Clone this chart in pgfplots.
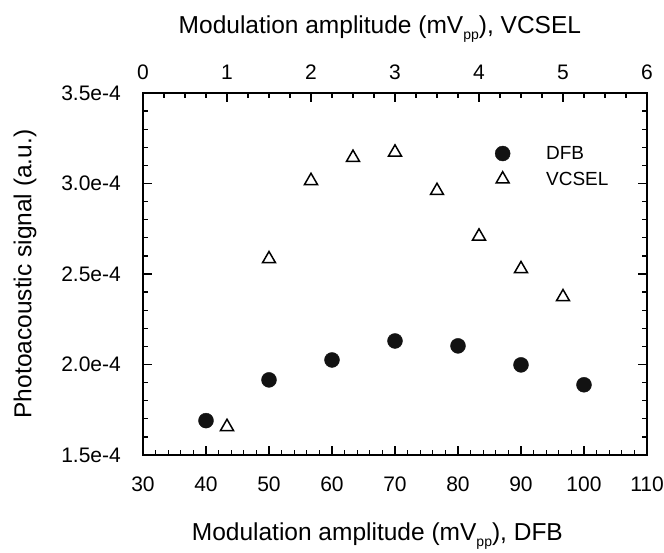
\documentclass[border=0pt]{standalone}
\usepackage{fontspec}
\setmainfont{Liberation Sans}
\usepackage{pgfplots}
\pgfplotsset{compat=1.18}
\newcommand{\pp}{\raisebox{-0.5ex}{\fontsize{14}{14}\selectfont pp}}
\begin{document}
\begin{tikzpicture}
\pgfplotsset{
  common/.style={
    scale only axis, width=504pt, height=362pt, at={(0,0)}, anchor=south west,
    ymin=1.5e-4, ymax=3.5e-4,
    axis line style={line width=1.6pt, black},
    tick style={line width=1.3pt, black},
    major tick length=9pt, minor tick length=5pt, tick align=inside,
    ticklabel style={font=\fontsize{21}{25}\selectfont, inner sep=0pt},
    label style={font=\fontsize{24.5}{28}\selectfont},
    scaled y ticks=false,
  }
}
\begin{axis}[common,
  xmin=30, xmax=110,
  xtick={30,40,50,60,70,80,90,100,110},
  xticklabels={30,40,50,60,70,80,90,100,110},
  minor x tick num=4, xtick pos=lower,
  xticklabel style={yshift=-22pt},
  ytick={1.5e-4,2.0e-4,2.5e-4,3.0e-4,3.5e-4},
  yticklabels={1.5e-4,2.0e-4,2.5e-4,3.0e-4,3.5e-4},
  minor y tick num=4, ytick pos=both, yticklabel pos=left,
  yticklabel style={xshift=-22pt},
  xlabel={Modulation amplitude (mV\pp), DFB},
  xlabel style={at={(axis description cs:0.465,0)}, anchor=center, yshift=-81pt},
  ylabel={Photoacoustic signal (a.u.)},
  ylabel style={at={(axis description cs:-0.234,0.5)}, anchor=center},
]
\addplot[only marks, mark=*, mark size=7.5pt, color=black!93, fill=black!93]
  coordinates {(40,1.69e-4) (50,1.915e-4) (60,2.025e-4) (70,2.13e-4) (80,2.103e-4) (90,1.998e-4) (100,1.888e-4)};
\end{axis}
\begin{axis}[common,
  xmin=0, xmax=6,
  xtick={0,1,2,3,4,5,6},
  xticklabels={0,1,2,3,4,5,6},
  minor x tick num=3, xtick pos=upper, xticklabel pos=upper,
  xticklabel style={yshift=13pt},
  hide y axis,
  xlabel={Modulation amplitude (mV\pp), VCSEL},
  xlabel style={at={(axis description cs:0.47,1)}, anchor=center, yshift=64pt},
  legend style={at={(axis cs:4.19,3.218e-4)}, anchor=north west, draw=none, fill=none,
    font=\fontsize{19}{23}\selectfont, row sep=7pt, column sep=34pt, inner sep=0pt},
  legend cell align=left,
]
\addlegendimage{only marks, mark=*, mark size=7.5pt, color=black!93, fill=black!93}
\addlegendentry{DFB}
\addplot[only marks, mark=triangle, mark size=7.5pt, line width=1.5pt, color=black]
  coordinates {(1.0,1.656e-4) (1.5,2.583e-4) (2.0,3.015e-4) (2.5,3.143e-4) (3.0,3.172e-4) (3.5,2.96e-4) (4.0,2.708e-4) (4.5,2.528e-4) (5.0,2.373e-4)};
\addlegendentry{VCSEL}
\end{axis}
\useasboundingbox (-143pt,-97pt) rectangle (521pt,455pt);
\end{tikzpicture}
\end{document}
